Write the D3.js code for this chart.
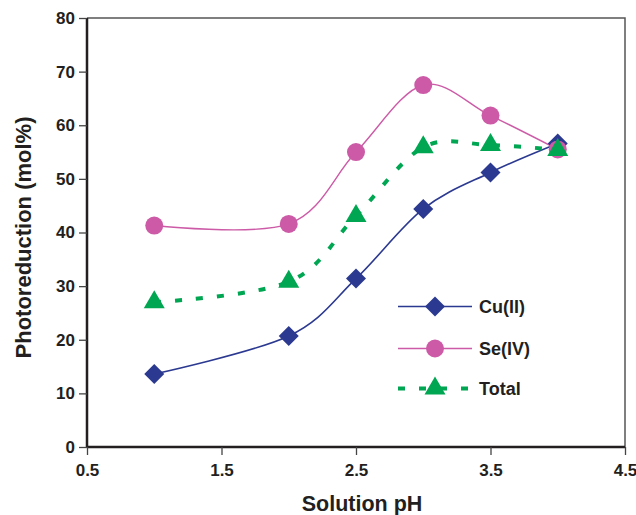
<!DOCTYPE html>
<html><head><meta charset="utf-8">
<script src="https://cdn.jsdelivr.net/npm/d3@7"></script>
<style>body{margin:0;background:#fff}svg{display:block}text{font-family:"Liberation Sans",Arial,sans-serif;font-weight:bold;fill:#231f20}</style>
</head><body><svg id="c" width="636" height="515"></svg>
<script>
const phValues = [1, 2, 2.5, 3, 3.5, 4];
const cuValues = [13.6, 20.7, 31.4, 44.4, 51.2, 56.6];
const seValues = [41.3, 41.6, 55.0, 67.5, 61.8, 55.5];
const totalValues = [27.0, 30.8, 43.1, 55.9, 56.3, 55.4];
const xTicks = [0.5, 1.5, 2.5, 3.5, 4.5];
const yTicks = [0, 10, 20, 30, 40, 50, 60, 70, 80];
const seriesNames = ["Cu(II)", "Se(IV)", "Total"];

const svg = d3.select("#c");
const L = 87, R = 625, T = 18, B = 447;
const x = d3.scaleLinear().domain([0.5, 4.5]).range([L, R]);
const y = d3.scaleLinear().domain([0, 80]).range([B, T]);

svg.append("path").attr("d", `M${L},${T}H${R}V${B}`).attr("fill","none").attr("stroke","#555").attr("stroke-width",1.5);

const xAxis = svg.append("g").attr("transform",`translate(0,${B})`)
  .call(d3.axisBottom(x).tickValues(xTicks).tickSize(8).tickPadding(9).tickFormat(d3.format(".1f")));
const yAxis = svg.append("g").attr("transform",`translate(${L},0)`)
  .call(d3.axisLeft(y).tickValues(yTicks).tickSize(8).tickPadding(4).tickFormat(d3.format("d")));
[xAxis, yAxis].forEach(g => {
  g.select(".domain").attr("stroke","#231f20").attr("stroke-width",2.5);
  g.selectAll(".tick line").attr("stroke","#444").attr("stroke-width",1.3);
  g.selectAll(".tick text").attr("font-size",17).attr("font-family",'"Liberation Sans",Arial,sans-serif').attr("font-weight","bold").attr("fill","#231f20");
});
xAxis.select(".domain").attr("d", `M${L},0H${R}`);
yAxis.select(".domain").attr("d", `M0,${B}V${T}`);

svg.append("text").attr("x", 362).attr("y", 511).attr("text-anchor","middle").attr("font-size",21.5).text("Solution pH");
svg.append("text").attr("transform","translate(31,237.5) rotate(-90)").attr("text-anchor","middle").attr("font-size",22).text("Photoreduction (mol%)");

const line = d3.line().curve(d3.curveCardinal.tension(0)).x(d => x(d[0])).y(d => y(d[1]));
const cu = phValues.map((p,i)=>[p, cuValues[i]]);
const se = phValues.map((p,i)=>[p, seValues[i]]);
const tot = phValues.map((p,i)=>[p, totalValues[i]]);

const colCu = "#2b3990", colSe = "#cc5aa6", colTot = "#00a651";
function drawDiamond(g, cx, cy){
  g.append("path").attr("d", `M${cx},${cy-10}L${cx+10},${cy}L${cx},${cy+10}L${cx-10},${cy}Z`).attr("fill", colCu);
}
function drawCircle(g, cx, cy){ g.append("circle").attr("cx",cx).attr("cy",cy).attr("r",9).attr("fill",colSe); }
function drawTri(g, cx, cy){
  g.append("path").attr("d", `M${cx},${cy-12}L${cx+10.5},${cy+6}L${cx-10.5},${cy+6}Z`).attr("fill", colTot);
}

svg.append("path").datum(cu).attr("d", line).attr("fill","none").attr("stroke",colCu).attr("stroke-width",1.6);
svg.append("path").datum(se).attr("d", line).attr("fill","none").attr("stroke",colSe).attr("stroke-width",1.4);
svg.append("path").datum(tot).attr("d", line).attr("fill","none").attr("stroke",colTot).attr("stroke-width",4).attr("stroke-dasharray","7,14");

const gm = svg.append("g");
cu.forEach(d => drawDiamond(gm, x(d[0]), y(d[1])));
se.forEach(d => drawCircle(gm, x(d[0]), y(d[1])));
tot.forEach(d => drawTri(gm, x(d[0]), y(d[1])));

const lg = svg.append("g");
const rows = [306.5, 348.5, 388.5];
lg.append("line").attr("x1",398).attr("x2",472).attr("y1",rows[0]).attr("y2",rows[0]).attr("stroke",colCu).attr("stroke-width",1.6);
drawDiamond(lg, 435, rows[0]);
lg.append("line").attr("x1",398).attr("x2",472).attr("y1",rows[1]).attr("y2",rows[1]).attr("stroke",colSe).attr("stroke-width",1.4);
drawCircle(lg, 435, rows[1]);
lg.append("line").attr("x1",398).attr("x2",472).attr("y1",rows[2]).attr("y2",rows[2]).attr("stroke",colTot).attr("stroke-width",4).attr("stroke-dasharray","7,14");
drawTri(lg, 435, rows[2]);
seriesNames.forEach((n,i) => lg.append("text").attr("x",479).attr("y",rows[i]+6.5).attr("font-size",18).text(n));
</script></body></html>
